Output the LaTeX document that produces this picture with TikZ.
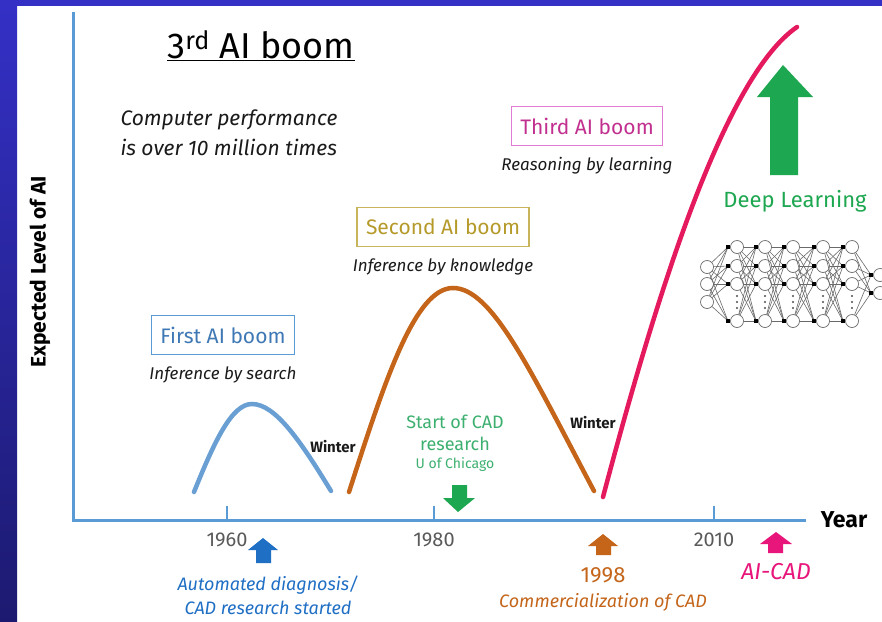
\documentclass[tikz,border=0pt]{standalone}
\usepackage{fontspec}
\setmainfont{Fira Sans}
\usetikzlibrary{positioning}
\definecolor{frametop}{HTML}{3430C6}
\definecolor{framebot}{HTML}{1C1A70}
\definecolor{axisblue}{HTML}{5B9BD5}
\definecolor{boomone}{HTML}{3E78B5}
\definecolor{boomtwo}{HTML}{B59A2A}
\definecolor{boomtwoline}{HTML}{C8B45A}
\definecolor{boomthree}{HTML}{C2308F}
\definecolor{boomthreeline}{HTML}{E27BD6}
\definecolor{curveone}{HTML}{6A9FD4}
\definecolor{curvetwo}{HTML}{C4651A}
\definecolor{curvethree}{HTML}{E5195E}
\definecolor{dlgreen}{HTML}{1DA750}
\definecolor{cadgreen}{HTML}{3DB070}
\definecolor{cadblue}{HTML}{1F6FC5}
\definecolor{cadpink}{HTML}{E8157A}
\definecolor{textgray}{HTML}{1A1A1A}
\definecolor{yeargray}{HTML}{5A5A5A}
\definecolor{nngray}{HTML}{6A6A6A}
\newcommand{\fsz}[1]{\fontsize{#1}{\fpeval{#1*1.2}}\selectfont}

\begin{document}
\begin{tikzpicture}[x=1pt,y=-1pt]
\tikzset{boombox/.style={draw, line width=1.3pt, minimum height=39pt, inner xsep=9pt, font=\fsz{21}}}
\tikzset{caption/.style={font=\fsz{17}\itshape, text=textgray, inner sep=1pt}}
\tikzset{boomcurve/.style={line width=4.5pt, line cap=round}}
\tikzset{winter/.style={font=\fsz{15}\bfseries, text=textgray}}
\tikzset{year/.style={font=\fsz{20}, text=yeargray}}
\tikzset{neuron/.style={draw=nngray, fill=white, circle, minimum size=13pt, inner sep=0pt, line width=0.7pt}}
\tikzset{synapse/.style={fill=black, minimum size=3.5pt, inner sep=0pt}}
\tikzset{nnedge/.style={draw=nngray, line width=0.6pt}}

%% Frame
\useasboundingbox (0,0) rectangle (882,621);
\clip (0,0) rectangle (882,621);
\fill[white] (0,0) rectangle (882,621);
\shade[top color=frametop, bottom color=framebot] (0,0) rectangle (17,621);
\fill[frametop] (17,0) rectangle (882,6);

%% Axes
\coordinate (ytop) at (73,12);
\coordinate (origin) at (73,520);
\coordinate (xend) at (806,520);
\draw[axisblue, line width=3pt] (ytop) -- (origin) -- (xend);
\foreach \x/\yr in {227/1960, 434/1980, 714/2010} {
    \draw[axisblue, line width=2.5pt] (\x,520) -- (\x,506);
    \node[year] (yr\yr) at (\x,540) {\yr};
}
\node[font=\fsz{23}\bfseries] (year) at (844,520) {Year};
\node[font=\fsz{21}\bfseries, rotate=90] (level) at (40,272) {Expected Level of AI};

%% Title
\node[font=\fsz{36}] (title) at (261,46) {\underline{3\textsuperscript{rd} AI boom}};
\node[font=\fontsize{21}{30}\selectfont\itshape, text=textgray, align=left, anchor=west] (perf) at (117,133)
    {Computer performance\\is over 10 million times};

%% The three booms
\node[boombox, draw=axisblue, text=boomone] (boom1) at (223,335) {First AI boom};
\node[caption, below=10pt of boom1] (search) {Inference by search};
\node[boombox, draw=boomtwoline, text=boomtwo] (boom2) at (443,227) {Second AI boom};
\node[caption, below=10pt of boom2] (knowledge) {Inference by knowledge};
\node[boombox, draw=boomthreeline, text=boomthree] (boom3) at (587,126) {Third AI boom};
\node[caption, below=10pt of boom3] (learning) {Reasoning by learning};

\draw[boomcurve, curveone] (194,492) .. controls (215,440) and (232,404) .. (252,404)
    .. controls (275,404) and (300,440) .. (331,491);
\draw[boomcurve, curvetwo] (349,492) .. controls (385,380) and (415,288) .. (453,288)
    .. controls (492,288) and (530,370) .. (594,491);
\draw[boomcurve, curvethree] (603,497) .. controls (650,320) and (720,80) .. (797,27);
\node[winter] (winter1) at (333,447) {Winter};
\node[winter] (winter2) at (593,423) {Winter};

%% Deep learning
\fill[dlgreen] (783,65) -- (813,97) -- (798,97) -- (798,175) -- (770,175) -- (770,97) -- (757,97) -- cycle;
\node[font=\fsz{22}, text=dlgreen] (deep) at (795,201) {Deep Learning};

\foreach \k/\y in {1/267,2/284,3/302}
    \node[neuron] (h0-\k) at (707,\y) {};
\foreach \l/\x in {1/737,2/765,3/793,4/823,5/852} {
    \foreach \k/\y in {1/247,2/266,3/284,4/321} {
        \node[neuron] (h\l-\k) at (\x,\y) {};
        \node[synapse] (s\l-\k) at (\x-9,\y) {};
    }
    % dotted gap between the 3rd and last unit
    \foreach \d in {296,302,308}
        \fill[black!70] (\x,\d) circle (1.1pt);
}
\foreach \k/\y in {1/275,2/293} {
    \node[neuron] (h6-\k) at (880,\y) {};
    \node[synapse] (s6-\k) at (871,\y) {};
}
\foreach \i in {1,2,3}
    \foreach \j in {1,...,4}
        \draw[nnedge] (h0-\i) -- (s1-\j);
\foreach \l [evaluate=\l as \m using int(\l+1)] in {1,...,4}
    \foreach \i in {1,...,4}
        \foreach \j in {1,...,4}
            \draw[nnedge] (h\l-\i) -- (s\m-\j);
\foreach \i in {1,...,4}
    \foreach \j in {1,2}
        \draw[nnedge] (h5-\i) -- (s6-\j);

%% CAD milestones
\node[font=\fsz{18}, text=cadgreen, align=center] (uchicago) at (455,433)
    {Start of CAD\\research};
\node[font=\fsz{14}, text=cadgreen, below=0pt of uchicago] (chicago) {U of Chicago};
\fill[dlgreen] (452,485) -- (467,485) -- (467,498) -- (475,498) -- (458,512) -- (443,498) -- (452,498) -- cycle;

\fill[cadblue] (263,538) -- (278,550) -- (271,550) -- (271,563) -- (256,563) -- (256,550) -- (248,550) -- cycle;
\node[font=\fontsize{18}{24}\selectfont\itshape, text=cadblue, align=center] (autodiag) at (268,595)
    {Automated diagnosis/\\CAD research started};

\fill[curvetwo] (603,534) -- (618,546) -- (611,546) -- (611,555) -- (596,555) -- (596,546) -- (588,546) -- cycle;
\node[font=\fsz{22}, text=curvetwo] (y1998) at (603,575) {1998};
\node[font=\fsz{18}\itshape, text=curvetwo] (commercial) at (603,602) {Commercialization of CAD};

\fill[cadpink] (776,532) -- (792,544) -- (783,544) -- (783,553) -- (768,553) -- (768,544) -- (760,544) -- cycle;
\node[font=\fsz{23}\itshape, text=cadpink] (aicad) at (776,572) {AI-CAD};

\end{tikzpicture}
\end{document}
